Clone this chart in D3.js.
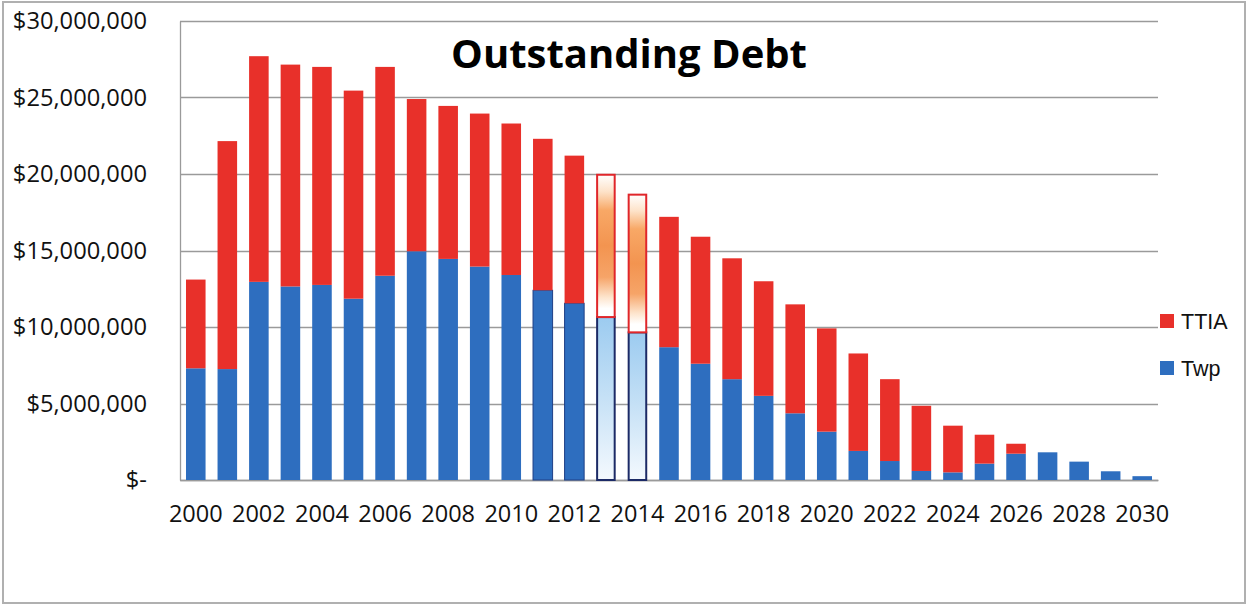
<!DOCTYPE html>
<html>
<head>
<meta charset="utf-8">
<script src="https://cdn.jsdelivr.net/npm/d3@7"></script>
<style>
  html, body { margin: 0; padding: 0; background: #fff; }
  svg { display: block; }
</style>
</head>
<body>
<svg id="chart" width="1249" height="607"></svg>
<script>
// ---- data (values in dollars) ----
const years = d3.range(2000, 2031);
const twp = [7.3, 7.25, 12.95, 12.65, 12.75, 11.85, 13.35, 14.95, 14.45, 13.95, 13.4, 12.4, 11.55,
             10.65, 9.65, 8.68, 7.6, 6.59, 5.5, 4.36, 3.16, 1.9, 1.24, 0.59, 0.5, 1.07, 1.72, 1.81, 1.2, 0.57, 0.25]
             .map(v => v * 1e6);
const totals = [13.1, 22.15, 27.7, 27.15, 27.0, 25.45, 27.0, 24.9, 24.45, 23.95, 23.3, 22.3, 21.2,
                19.95, 18.65, 17.2, 15.9, 14.49, 12.99, 11.48, 9.91, 8.27, 6.59, 4.85, 3.55, 2.96, 2.37, 1.81, 1.2, 0.57, 0.25]
                .map(v => v * 1e6);
const ttia = totals.map((t, i) => Math.max(0, t - twp[i]));
const projectedYears = [2013, 2014];
const yTickValues = [0, 5e6, 10e6, 15e6, 20e6, 25e6, 30e6];
const xTickValues = d3.range(2000, 2031, 2);
const seriesNames = ["TTIA", "Twp"];
const title = "Outstanding Debt";

const RED = "#e8302a", BLUE = "#2e6ebf";

const svg = d3.select("#chart");

// outer frame
svg.append("rect").attr("x", 3).attr("y", 2).attr("width", 1242).attr("height", 601)
  .attr("fill", "none").attr("stroke", "#b0b0b0").attr("stroke-width", 2);

const plotL = 180, plotR = 1158, plotT = 21, plotB = 480;

const x = d3.scaleBand().domain(years).range([plotL, plotR]).paddingInner(0.38).paddingOuter(0.19);
const y = d3.scaleLinear().domain([0, 30e6]).range([plotB, plotT]);

// defs gradients
const defs = svg.append("defs");
const gO = defs.append("linearGradient").attr("id", "gradOrange").attr("x1", 0).attr("y1", 0).attr("x2", 0).attr("y2", 1);
[[0, "#ffffff"], [0.12, "#fde2c8"], [0.25, "#f8a866"], [0.5, "#f39450"], [0.72, "#f6a468"], [0.86, "#fde4cc"], [0.94, "#ffffff"], [1, "#ffffff"]]
  .forEach(([o, c]) => gO.append("stop").attr("offset", o).attr("stop-color", c));
const gB = defs.append("linearGradient").attr("id", "gradBlue").attr("x1", 0).attr("y1", 0).attr("x2", 0).attr("y2", 1);
[[0, "#9ccbf0"], [0.5, "#c6e1f6"], [1, "#f4f9fe"]]
  .forEach(([o, c]) => gB.append("stop").attr("offset", o).attr("stop-color", c));

// gridlines
svg.append("g").selectAll("line").data(yTickValues).join("line")
  .attr("x1", plotL).attr("x2", plotR)
  .attr("y1", d => Math.round(y(d)) + 0.5).attr("y2", d => Math.round(y(d)) + 0.5)
  .attr("stroke", "#9a9a9a").attr("stroke-width", 1.3);

// y axis
const yAxis = svg.append("g").attr("transform", `translate(${plotL},0)`)
  .call(d3.axisLeft(y).tickValues(yTickValues).tickSize(0).tickPadding(33)
    .tickFormat(d => d === 0 ? "$-" : d3.format("$,.0f")(d)));
yAxis.select(".domain").attr("stroke", "#9a9a9a").attr("stroke-width", 1.3);
yAxis.selectAll("text").attr("font-family", "'Open Sans', sans-serif").attr("font-size", 23.7)
  .attr("fill", "#111");

// x axis
const xAxis = svg.append("g").attr("transform", `translate(0,${plotB})`)
  .call(d3.axisBottom(x).tickValues(xTickValues).tickSize(0).tickPadding(25));
xAxis.select(".domain").attr("stroke", "#9a9a9a").attr("stroke-width", 1.3);
xAxis.selectAll("text").attr("font-family", "'Open Sans', sans-serif").attr("font-size", 23.5)
  .attr("fill", "#111");

// bars
const data = years.map((yr, i) => ({ yr, twp: twp[i], ttia: ttia[i], proj: projectedYears.includes(yr) }));
const bars = svg.append("g");
bars.selectAll("rect.twp").data(data).join("rect").attr("class", "twp")
  .attr("x", d => x(d.yr) + (d.proj ? 1 : 0))
  .attr("width", d => x.bandwidth() - (d.proj ? 2 : 0))
  .attr("y", d => y(d.twp))
  .attr("height", d => y(0) - y(d.twp))
  .attr("fill", d => d.proj ? "url(#gradBlue)" : BLUE)
  .attr("stroke", d => d.proj ? "#1c2a66" : (d.yr === 2011 || d.yr === 2012 ? "#1f3f86" : "none"))
  .attr("stroke-width", d => d.proj ? 2 : 1);
bars.selectAll("rect.ttia").data(data.filter(d => d.ttia > 0)).join("rect").attr("class", "ttia")
  .attr("x", d => x(d.yr) + (d.proj ? 1 : 0))
  .attr("width", d => x.bandwidth() - (d.proj ? 2 : 0))
  .attr("y", d => y(d.twp + d.ttia))
  .attr("height", d => y(d.twp) - y(d.twp + d.ttia))
  .attr("fill", d => d.proj ? "url(#gradOrange)" : RED)
  .attr("stroke", d => d.proj ? "#e0262a" : "none")
  .attr("stroke-width", 2);

// title
svg.append("text").attr("x", 629).attr("y", 68).attr("text-anchor", "middle")
  .attr("font-family", "'Open Sans', sans-serif").attr("font-weight", "bold").attr("font-size", 40)
  .attr("fill", "#000").text(title);

// legend
const legend = svg.append("g");
const legY = [321, 368];
const legColors = [RED, BLUE];
seriesNames.forEach((name, i) => {
  legend.append("rect").attr("x", 1160).attr("y", legY[i] - 7).attr("width", 14).attr("height", 14)
    .attr("fill", legColors[i]);
  legend.append("text").attr("x", 1181).attr("y", legY[i] + 8)
    .attr("font-family", "'Liberation Sans', Arial, sans-serif").attr("font-size", 21.5)
    .attr("fill", "#111").text(name);
});
</script>
</body>
</html>
